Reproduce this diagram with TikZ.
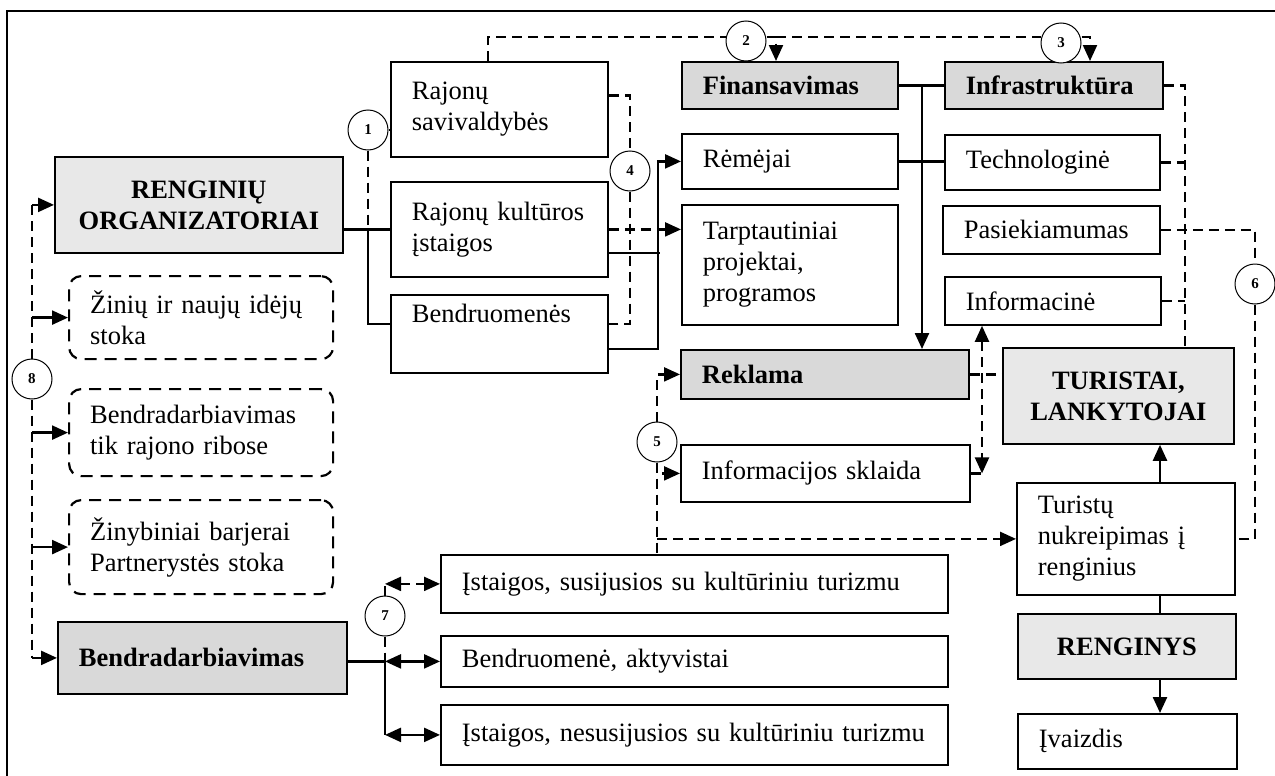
\documentclass[tikz,border=0pt]{standalone}
\usepackage{fontspec}
\setmainfont{Liberation Serif}
\usetikzlibrary{arrows.meta}

\begin{document}
\fontsize{13.25}{15.5}\selectfont
\begin{tikzpicture}[x=0.5pt, y=-0.5pt, >={Triangle[length=8pt, width=7pt]},
	box/.style={draw, line width=.9pt, anchor=north west, align=left, inner xsep=10.5pt, inner ysep=0pt},
	dark/.style={box, fill=gray!30, font=\bfseries},
	light/.style={box, fill=gray!18, align=center, font=\bfseries},
	gap/.style={box, line width=1.1pt, dash pattern=on 6pt off 4pt, rounded corners=6pt},
	num/.style={circle, draw, fill=white, line width=.5pt, minimum size=20pt, inner sep=0pt, font=\fontsize{7.5}{8}\selectfont\bfseries},
	sline/.style={line width=1.2pt},
	dline/.style={line width=1.1pt, dash pattern=on 5pt off 3pt}]
	\useasboundingbox (0,0) rectangle (1275,776);
	\draw[line width=1.2pt] (7,776) -- (7,11) -- (1275,11);

	\node[light, minimum width=144pt, minimum height=48pt] (org) at (54,156) {RENGINIŲ\\ORGANIZATORIAI};
	\node[gap, text width=111pt, minimum height=41.5pt] (zin) at (68,275) {Žinių ir naujų idėjų\\stoka};
	\node[gap, text width=111pt, minimum height=43.5pt] (rib) at (68,388) {Bendradarbiavimas\\tik rajono ribose};
	\node[gap, text width=111pt, minimum height=47pt] (bar) at (68,499) {Žinybiniai barjerai\\Partnerystės stoka};
	\node[dark, text width=123.5pt, minimum height=36pt] (bend) at (57,621) {Bendradarbiavimas};

	\node[box, text width=87.5pt, minimum height=47.5pt] (sav) at (390,61) {Rajonų\\savivaldybės};
	\node[box, text width=87.5pt, minimum height=47.5pt] (kult) at (390,181) {Rajonų kultūros\\įstaigos};
	\node[box, text width=87.5pt, minimum height=39pt] (bdr) at (390,294) {Bendruomenės\\\strut};

	\node[dark, text width=87pt, minimum height=23.5pt] (fin) at (681,61) {Finansavimas};
	\node[box, text width=87pt, minimum height=27.5pt] (rem) at (681,133) {Rėmėjai};
	\node[box, text width=87pt, minimum height=60pt] (tarp) at (681,204) {Tarptautiniai\\projektai,\\programos};
	\node[dark, text width=123pt, minimum height=24.5pt] (rek) at (680,349) {Reklama};
	\node[box, text width=123.5pt, minimum height=28.5pt] (skl) at (680,444) {Informacijos sklaida};

	\node[dark, text width=88pt, minimum height=23.5pt] (infra) at (944,61) {Infrastruktūra};
	\node[box, text width=86.5pt, minimum height=27.5pt] (tech) at (944,134) {Technologinė};
	\node[box, text width=87.5pt, minimum height=24pt] (pas) at (942,205) {Pasiekiamumas};
	\node[box, text width=87pt, minimum height=24pt] (inf) at (944,276) {Informacinė};
	\node[light, minimum width=115.5pt, minimum height=48pt] (tur) at (1002,347) {TURISTAI,\\LANKYTOJAI};
	\node[box, text width=88pt, minimum height=56pt] (nuk) at (1016,482) {Turistų\\nukreipimas į\\renginius};
	\node[light, minimum width=109pt, minimum height=32.5pt] (ren) at (1017,613) {RENGINYS};
	\node[box, text width=88.5pt, minimum height=27.5pt] (ivz) at (1017,713) {Įvaizdis};

	\node[box, text width=232.5pt, minimum height=29pt] (sus) at (440,554) {Įstaigos, susijusios su kultūriniu turizmu};
	\node[box, text width=232.5pt, minimum height=25.5pt] (akt) at (440,635) {Bendruomenė, aktyvistai};
	\node[box, text width=232.5pt, minimum height=30pt] (nes) at (440,704) {Įstaigos, nesusijusios su kultūriniu turizmu};

	\node[num] (n1) at (368,130) {1};
	\node[num] (n2) at (746,41) {2};
	\node[num] (n3) at (1061,43) {3};
	\node[num] (n4) at (630,171) {4};
	\node[num] (n5) at (657,442) {5};
	\node[num] (n6) at (1255,284) {6};
	\node[num] (n7) at (385,616) {7};
	\node[num] (n8) at (32,379) {8};

	\coordinate (t0) at (488,37);
	\coordinate (t1) at (776,37);
	\coordinate (t2) at (1090,37);
	\coordinate (v1) at (658,0);
	\coordinate (v2) at (922,0);
	\coordinate (v3) at (1185,0);
	\coordinate (v4) at (982,0);
	\coordinate (v5) at (1160,0);

	\draw[dline] (t0 |- sav.north) -- (t0) -- (n2.west |- t0);
	\draw[dline, ->] (n2.east |- t0) -- (t1) -- (t1 |- fin.north);
	\draw[dline] (t1) -- (n3.west |- t0);
	\draw[dline, ->] (n3.east |- t0) -- (t2) -- (t2 |- infra.north);

	\draw[dline] (n1.east) -- (n1.east -| sav.west);
	\draw[dline] (n1.south) -- (n1 |- kult.west);
	\draw[sline] (org.east |- kult.west) -- (kult.west);
	\draw[sline] (n1 |- kult.west) |- ([yshift=5pt]bdr.west);

	\draw[dline] ([yshift=7pt]sav.east) -| (n4.north);
	\draw[dline] (n4.south) |- ([yshift=5pt]bdr.east);
	\draw[sline] ([yshift=-11.75pt]kult.east) -- ++(51,0);
	\draw[sline, ->] ([yshift=-7.5pt]bdr.east) -| (v1 |- rem.west) -- (rem.west);
	\draw[dline, ->] (kult.east) -- (kult.east -| tarp.west);

	\draw[sline] (fin.east) -- (infra.west);
	\draw[sline] (rem.east) -- (rem.east -| tech.west);
	\draw[sline, ->] (v2 |- fin.east) -- (v2 |- rek.north);

	\draw[dline] (infra.east) -| (v3 |- tur.north);
	\draw[dline] (tech.east) -- (tech.east -| v3);
	\draw[dline] (inf.east) -- (inf.east -| v3);
	\draw[dline] (pas.east) -| (n6.north);
	\draw[dline] (n6.south) |- (nuk.east);

	\draw[dline, ->] (n5.north) |- (rek.west);
	\draw[dline, ->] (n5.south) |- (skl.west);
	\draw[dline] (n5.south) -- (n5.south |- sus.north);
	\draw[dline, ->] (n5 |- nuk.west) -- (nuk.west);

	\draw[dline] (rek.east) -- (rek.east -| tur.west);
	\draw[dline, <->] (v4 |- inf.south) -- (v4 |- skl.east);
	\draw[dline] (skl.east) -- (v4 |- skl.east);

	\draw[sline, ->] (v5 |- nuk.north) -- (v5 |- tur.south);
	\draw[sline] (v5 |- nuk.south) -- (v5 |- ren.north);
	\draw[sline, ->] (v5 |- ren.south) -- (v5 |- ivz.north);

	\draw[sline] (bend.east |- akt.west) -- (n7 |- akt.west);
	\draw[sline, <->] (n7 |- akt.west) -- (akt.west);
	\draw[sline] (n7 |- akt.west) -- (n7 |- nes.west);
	\draw[sline, <->] (n7 |- nes.west) -- (nes.west);
	\draw[dline] (n7.south) -- (n7 |- akt.west);
	\draw[dline] (n7.north) -- (n7 |- sus.west);
	\draw[dline, <->] (n7 |- sus.west) -- (sus.west);

	\draw[dline] (n8.north) -- (n8 |- org.west);
	\draw[dline] (n8.south) -- (n8 |- bend.west);
	\draw[sline, ->] (n8 |- org.west) -- (org.west);
	\draw[sline, ->] (n8 |- zin.west) -- (zin.west);
	\draw[sline, ->] (n8 |- rib.west) -- (rib.west);
	\draw[sline, ->] (n8 |- bar.west) -- (bar.west);
	\draw[sline, ->] (n8 |- bend.west) -- (bend.west);
\end{tikzpicture}
\end{document}
